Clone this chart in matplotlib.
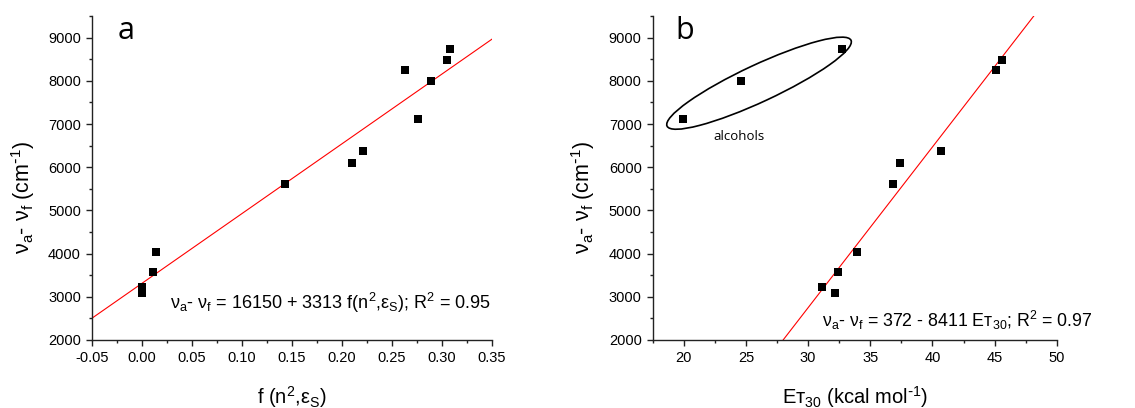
import numpy as np
import matplotlib
matplotlib.use("Agg")
import matplotlib.pyplot as plt
from matplotlib.patches import Ellipse
from matplotlib.ticker import MultipleLocator, FormatStrFormatter
import matplotlib.transforms as mtransforms

plt.rcParams['font.family'] = ['Liberation Sans', 'DejaVu Sans']
plt.rcParams['mathtext.default'] = 'regular'
plt.rcParams['axes.unicode_minus'] = False

# Stokes shift (cm-1) against solvent polarity function and ET(30)
f_vals = [0.000, 0.000, 0.011, 0.014, 0.143, 0.210, 0.221, 0.263, 0.276, 0.289, 0.305, 0.308]
et30 = [31.1, 32.2, 32.4, 33.9, 36.8, 37.4, 40.7, 45.1, 19.95, 24.6, 45.6, 32.7]
shift = [3230, 3090, 3580, 4030, 5610, 6100, 6370, 8250, 7110, 8000, 8480, 8740]

# linear fits (intercept, slope)
fit_a = (3313, 16150)
fit_b = (-8411, 372)

eq_a = "ν$_a$- ν$_f$ = 16150 + 3313 f(n$^2$,ε$_S$); R$^2$ = 0.95"
eq_b = "ν$_a$- ν$_f$ = 372 - 8411 Eт$_{30}$; R$^2$ = 0.97"
ylab = "ν$_a$- ν$_f$ (cm$^{\\text{-}1}$)"

fig = plt.figure(figsize=(11.35, 4.08), dpi=100)
ax1 = fig.add_axes([0.0811, 0.1667, 0.3524, 0.794])
ax2 = fig.add_axes([0.5751, 0.1667, 0.3560, 0.794])


def style(ax):
    for s in ['top', 'right']:
        ax.spines[s].set_visible(False)
    for s in ['left', 'bottom']:
        ax.spines[s].set_linewidth(1.0)
        ax.spines[s].set_color('#222222')
    ax.tick_params(which='major', direction='out', length=4, width=1, labelsize=10.5, pad=4, color='#222222')
    ax.tick_params(which='minor', direction='out', length=2.3, width=1, color='#222222')
    ax.set_ylim(2000, 9500)
    ax.yaxis.set_major_locator(MultipleLocator(1000))
    ax.yaxis.set_minor_locator(MultipleLocator(500))
    ax.set_ylabel(ylab, fontsize=15.5)
    ax.yaxis.set_label_coords(-0.137, 0.44)


# panel a
style(ax1)
ax1.set_xlim(-0.05, 0.35)
ax1.xaxis.set_major_locator(MultipleLocator(0.05))
ax1.xaxis.set_minor_locator(MultipleLocator(0.025))
ax1.xaxis.set_major_formatter(FormatStrFormatter('%.2f'))
xs = np.linspace(-0.05, 0.35, 50)
ax1.plot(xs, fit_a[0] + fit_a[1] * xs, color='red', lw=0.8, zorder=2)
ax1.scatter(f_vals, shift, marker='s', s=40, color='black', lw=0, zorder=3)
ax1.set_xlabel("f (n$^2$,ε$_S$)", fontsize=14.5)
ax1.xaxis.set_label_coords(0.5, -0.135)
ax1.text(0.349, 2720, eq_a, fontsize=13, ha='right', va='baseline')
ax1.text(-0.024, 9150, "a", fontsize=22, family='Open Sans', va='center', ha='left')

# panel b
style(ax2)
ax2.set_xlim(17.5, 50)
ax2.xaxis.set_major_locator(MultipleLocator(5))
ax2.xaxis.set_minor_locator(MultipleLocator(2.5))
xs = np.linspace(17.5, 50, 50)
ax2.plot(xs, fit_b[0] + fit_b[1] * xs, color='red', lw=0.8, zorder=2)
ax2.scatter(et30, shift, marker='s', s=40, color='black', lw=0, zorder=3)
ax2.set_xlabel("Eт$_{30}$ (kcal mol$^{\\text{-}1}$)", fontsize=14.5)
ax2.xaxis.set_label_coords(0.5, -0.135)
ax2.text(31.1, 2300, eq_b, fontsize=12.8, ha='left', va='baseline')
ax2.text(19.3, 9150, "b", fontsize=22, family='Open Sans', va='center', ha='left')

# ellipse around the alcohols, sized in inches so it stays round on screen
trans = fig.dpi_scale_trans + mtransforms.ScaledTranslation(26.05, 7945, ax2.transData)
ell = Ellipse((0, 0), width=2.03, height=0.37, angle=25, transform=trans,
              fill=False, edgecolor='black', lw=1.2)
ax2.add_patch(ell)
ax2.text(24.4, 6720, "alcohols", fontsize=9.5, family='Open Sans', ha='center', va='center')

fig.savefig("out.png", dpi=100)
